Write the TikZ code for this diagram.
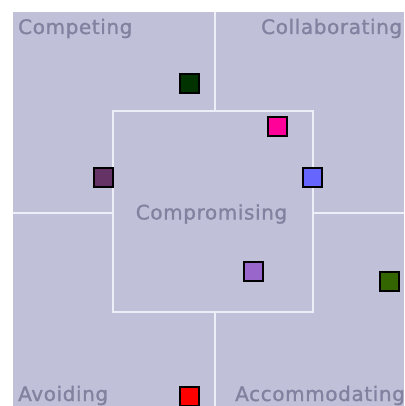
\documentclass[tikz,border=0pt]{standalone}
\usepackage{fontspec}
\setmainfont{DejaVu Sans}
\newfontfamily\lblfont[LetterSpace=3,FakeBold=1.2]{DejaVu Sans}
\definecolor{bgc}{HTML}{C0C0D8}
\definecolor{txc}{HTML}{8282A0}
\definecolor{lnc}{HTML}{EEEEF8}
\definecolor{cDarkGreen}{HTML}{003300}
\definecolor{cPink}{HTML}{FF0099}
\definecolor{cPlum}{HTML}{663366}
\definecolor{cBlue}{HTML}{6666FF}
\definecolor{cLilac}{HTML}{9966CC}
\definecolor{cGreen}{HTML}{336600}
\definecolor{cRed}{HTML}{FF0000}
\tikzset{
  lbl/.style={inner sep=0pt, text=txc, font=\lblfont\fontsize{20}{24}\selectfont},
  sq/.style={draw=black, line width=2pt, minimum size=19pt, inner sep=0pt, fill=#1},
  grid/.style={draw=lnc, line width=2.5pt}
}
\begin{document}
\begin{tikzpicture}[x=1pt,y=-1pt]
\useasboundingbox (0,0) rectangle (404,406);
\begin{scope}
\clip (0,0) rectangle (404,406);
\fill[bgc] (13,12) rectangle (404,406);
\node[grid, minimum width=200pt, minimum height=201pt, inner sep=0pt] (box) at (213,211.5) {};
\coordinate (topc) at (215,12);
\coordinate (botc) at (215,406);
\coordinate (leftc) at (13,213);
\coordinate (rightc) at (404,213);
\draw[grid] (topc) -- (topc |- box.north);
\draw[grid] (botc) -- (botc |- box.south);
\draw[grid] (leftc) -- (leftc -| box.west);
\draw[grid] (rightc) -- (rightc -| box.east);
\node[lbl, anchor=base west] (competing) at (18,34) {Competing};
\node[lbl, anchor=base west] (collab) at (261,34) {Collaborating};
\node[lbl, anchor=base] (compro) at (211.5,219.5) {Compromising};
\node[lbl, anchor=base west] (avoid) at (18,401) {Avoiding};
\node[lbl, anchor=base west] (accom) at (235,401) {Accommodating};
\node[sq=cDarkGreen] (s1) at (189.5,84) {};
\node[sq=cPink] (s2) at (277,126.5) {};
\node[sq=cPlum] (s3) at (103.5,177.5) {};
\node[sq=cBlue] (s4) at (312.5,177.5) {};
\node[sq=cLilac] (s5) at (253.5,271.5) {};
\node[sq=cGreen] (s6) at (389.5,281) {};
\node[sq=cRed] (s7) at (189.5,396.5) {};
\end{scope}
\end{tikzpicture}
\end{document}
